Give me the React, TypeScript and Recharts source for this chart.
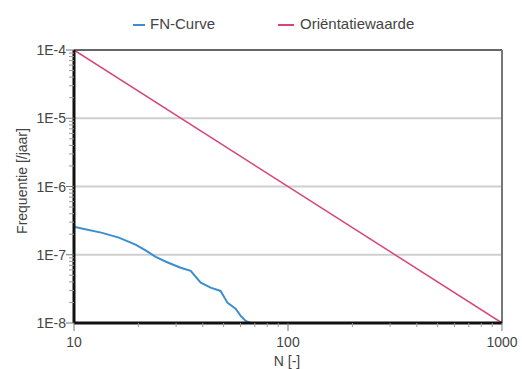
import React from 'react';
import { ComposedChart, Line, XAxis, YAxis, ReferenceLine, Legend, Label } from 'recharts';

const fnN = [10, 11, 13.4, 16.2, 19.5, 21.7, 24.1, 26.9, 31.5, 35.1, 39.1, 43.5, 48.4, 52.2, 56.9, 60.1, 63.4, 66.9];
const fnF = [2.58e-7, 2.41e-7, 2.11e-7, 1.78e-7, 1.4e-7, 1.15e-7, 9.3e-8, 7.9e-8, 6.45e-8, 5.8e-8, 3.9e-8, 3.3e-8, 2.95e-8, 1.97e-8, 1.62e-8, 1.27e-8, 1.07e-8, 1e-8];
const refN = [10, 1000];
const refF = [1e-4, 1e-8];
const yMajor = [1e-8, 1e-7, 1e-6, 1e-5, 1e-4];
const yMajorLabels = ['1E-8', '1E-7', '1E-6', '1E-5', '1E-4'];
const xMajor = [10, 100, 1000];
const xMajorLabels = ['10', '100', '1000'];
const multipliers = [2, 3, 4, 5, 6, 7, 8, 9];

const fnData = fnN.map((n, i) => ({ n, f: fnF[i] }));
const refData = refN.map((n, i) => ({ n, f: refF[i] }));
const yMinor: number[] = [];
yMajor.slice(0, -1).forEach((d) => multipliers.forEach((m) => yMinor.push(+(d * m).toPrecision(3))));
const xMinor: number[] = [];
xMajor.slice(0, -1).forEach((d) => multipliers.forEach((m) => xMinor.push(d * m)));
const yTicks = [...yMajor, ...yMinor].sort((a, b) => a - b);
const xTicks = [...xMajor, ...xMinor].sort((a, b) => a - b);

const FONT = '"Liberation Sans", Arial, sans-serif';
const TXT = '#444';

const YTick = (props: any) => {
  const { x, y, payload } = props;
  const idx = yMajor.findIndex((v) => Math.abs(v - payload.value) / v < 1e-6);
  if (idx >= 0) {
    return (
      <g>
        <line x1={x - 8} x2={x} y1={y} y2={y} stroke="#777" strokeWidth={1} />
        <text x={x - 8} y={y} textAnchor="end" dominantBaseline="central" fontSize={14} fontFamily={FONT} fill={TXT}>
          {yMajorLabels[idx]}
        </text>
      </g>
    );
  }
  return <line x1={x - 5} x2={x} y1={y} y2={y} stroke="#999" strokeWidth={1} />;
};

const XTick = (props: any) => {
  const { x, y, payload } = props;
  const idx = xMajor.findIndex((v) => Math.abs(v - payload.value) / v < 1e-6);
  if (idx >= 0) {
    return (
      <g>
        <line x1={x} x2={x} y1={y} y2={y + 8} stroke="#777" strokeWidth={1} />
        <text x={x} y={y + 19} textAnchor="middle" dominantBaseline="central" fontSize={14} fontFamily={FONT} fill={TXT}>
          {xMajorLabels[idx]}
        </text>
      </g>
    );
  }
  return <line x1={x} x2={x} y1={y} y2={y + 4} stroke="#999" strokeWidth={1} />;
};

const LegendContent = () => (
  <div style={{ position: 'relative', width: 522, height: 20, fontFamily: FONT, fontSize: 15, color: TXT }}>
    <span style={{ position: 'absolute', left: 133, top: 9, width: 12, height: 2, background: '#3b8ed0' }} />
    <span style={{ position: 'absolute', left: 150, top: 0 }}>FN-Curve</span>
    <span style={{ position: 'absolute', left: 278, top: 9, width: 16, height: 2, background: '#d6457a' }} />
    <span style={{ position: 'absolute', left: 300, top: 0 }}>Oriëntatiewaarde</span>
  </div>
);

export default function App() {
  return (
    <div style={{ position: 'absolute', left: 0, top: 0, width: 522, height: 369, background: '#fff' }}>
      <ComposedChart width={522} height={369} margin={{ top: 30, right: 20, bottom: 0, left: 0 }}>
        <XAxis
          dataKey="n"
          type="number"
          scale="log"
          domain={[10, 1000]}
          ticks={xTicks}
          interval={0}
          allowDataOverflow
          height={46}
          tickLine={false}
          tickSize={0}
          tickMargin={0}
          tick={<XTick />}
          axisLine={{ stroke: '#111', strokeWidth: 3 }}
        >
          <Label
            content={() => (
              <text x={287} y={361} textAnchor="middle" dominantBaseline="central" fontSize={14} fontFamily={FONT} fill={TXT}>
                N [-]
              </text>
            )}
          />
        </XAxis>
        <YAxis
          dataKey="f"
          type="number"
          scale="log"
          domain={[1e-8, 1e-4]}
          ticks={yTicks}
          interval={0}
          allowDataOverflow
          width={74}
          tickLine={false}
          tickSize={0}
          tickMargin={0}
          tick={<YTick />}
          axisLine={{ stroke: '#111', strokeWidth: 3 }}
        >
          <Label
            content={() => (
              <text x={22} y={181} transform="rotate(-90,22,181)" textAnchor="middle" dominantBaseline="central" fontSize={14} fontFamily={FONT} fill={TXT}>
                Frequentie [/jaar]
              </text>
            )}
          />
        </YAxis>
        <Legend verticalAlign="top" content={<LegendContent />} wrapperStyle={{ top: 15, left: 0, width: 522 }} />
        {yMajor.slice(1, -1).map((v) => (
          <ReferenceLine key={v} y={v} stroke="#cfcfcf" strokeWidth={2} />
        ))}
        <ReferenceLine y={1e-4} stroke="#666" strokeWidth={2} />
        <ReferenceLine x={1000} stroke="#777" strokeWidth={2} />
        <Line data={refData} dataKey="f" type="linear" stroke="#d6457a" strokeWidth={1.5} dot={false} isAnimationActive={false} name="Oriëntatiewaarde" />
        <Line data={fnData} dataKey="f" type="linear" stroke="#3b8ed0" strokeWidth={2} dot={false} isAnimationActive={false} name="FN-Curve" />
      </ComposedChart>
    </div>
  );
}
